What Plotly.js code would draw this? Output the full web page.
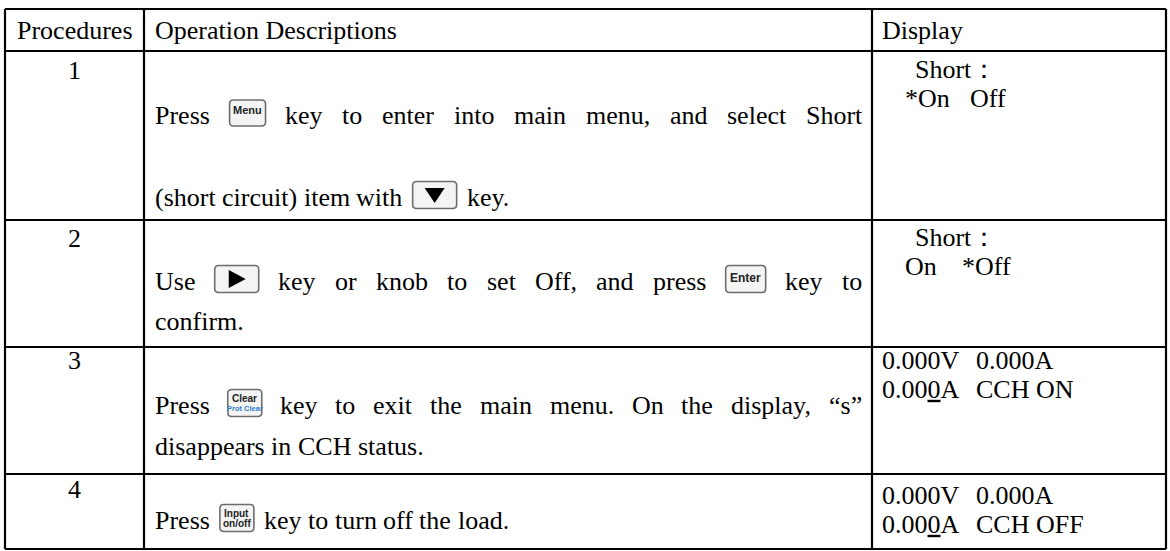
<!DOCTYPE html>
<html><head><meta charset="utf-8">
<script src="https://cdn.plot.ly/plotly-3.0.1.min.js"></script>
<style>html,body{margin:0;padding:0;background:#fff}#chart{width:1170px;height:551px}</style>
</head><body><div id="chart"></div>
<script>
// ---------- table content ----------
const headers = ["Procedures", "Operation Descriptions", "Display"];
const steps = ["1", "2", "3", "4"];
const descriptions = [
  ["Press [Menu] key to enter into main menu, and select Short", "(short circuit) item with [Down] key."],
  ["Use [Right] key or knob to set Off, and press [Enter] key to", "confirm."],
  ["Press [Clear] key to exit the main menu. On the display, \u201cs\u201d", "disappears in CCH status."],
  ["Press [Input] key to turn off the load."]
];
const displays = [
  [["Short\uff1a"], ["*On", "Off"]],
  [["Short\uff1a"], ["On", "*Off"]],
  [["0.000V", "0.000A"], ["0.000A", "CCH ON"]],
  [["0.000V", "0.000A"], ["0.000A", "CCH OFF"]]
];
const cursorDigit = [null, null, [1, 0, 4], [1, 0, 4]]; // [line, segment, char index] underlined

// ---------- layout constants ----------
const FS = 26;
const FONT = '"Liberation Serif", "Times New Roman", serif';
const colX = [5, 144, 872, 1166];
const rowY = [9, 51, 220, 347, 474, 549];
const headerY = 30;
const stepY = [70, 238, 360, 489];
const descY = [[115, 197], [281, 321], [405, 446], [520]];
const dispY = [[69, 98], [237, 266], [360, 389], [495, 524]];
const dispX = [[[915], [905, 970]], [[915], [905, 962]], [[882, 976], [882, 976]], [[882, 976], [882, 976]]];
const descL = 155, descR = 862;

const KEYS = {
  Menu:  {w: 36, h: 26, labels: [["Menu", 11, "#222", -3]]},
  Down:  {w: 44, h: 27, tri: "down"},
  Right: {w: 44, h: 27, tri: "right"},
  Enter: {w: 40, h: 27, labels: [["Enter", 12, "#222", -1]]},
  Clear: {w: 34, h: 27, labels: [["Clear", 10, "#222", -5], ["Prot Clear", 7.5, "#2f7fd0", 5]]},
  Input: {w: 34, h: 27, labels: [["Input", 10, "#222", -5], ["on/off", 10, "#222", 5]]}
};

const ctx = document.createElement("canvas").getContext("2d");
ctx.font = FS + 'px "Liberation Serif"';
const tw = s => ctx.measureText(s).width;

const shapes = [];
const annotations = [];
const TXT = (x, y, text, opts) => annotations.push(Object.assign({
  x: x, y: y, xref: "x", yref: "y", text: text, showarrow: false,
  xanchor: "left", yanchor: "middle", borderpad: 0, borderwidth: 0,
  font: {family: FONT, size: FS, color: "#000"}
}, opts || {}));

// grid lines
const LINE = {color: "#000", width: 2.2};
rowY.forEach(y => shapes.push({type: "line", xref: "x", yref: "y", x0: colX[0], x1: colX[3], y0: y, y1: y, line: LINE}));
colX.forEach(x => shapes.push({type: "line", xref: "x", yref: "y", x0: x, x1: x, y0: rowY[0], y1: rowY[rowY.length - 1], line: LINE}));

// header
TXT((colX[0] + colX[1]) / 2, headerY, headers[0], {xanchor: "center"});
TXT(descL, headerY, headers[1]);
TXT(882, headerY, headers[2]);

function rr(x, y, w, h, r) {
  return `M${x + r},${y} L${x + w - r},${y} Q${x + w},${y} ${x + w},${y + r} L${x + w},${y + h - r} Q${x + w},${y + h} ${x + w - r},${y + h} L${x + r},${y + h} Q${x},${y + h} ${x},${y + h - r} L${x},${y + r} Q${x},${y} ${x + r},${y} Z`;
}
function drawKey(name, x, cy) {
  const k = KEYS[name];
  const y = cy - k.h / 2 - 2;
  shapes.push({type: "path", xref: "x", yref: "y", path: rr(x, y, k.w, k.h, 4),
    fillcolor: "#f4f4f4", line: {color: "#6d6d6d", width: 1.6}});
  const cx = x + k.w / 2, my = y + k.h / 2;
  if (k.tri === "down") {
    shapes.push({type: "path", xref: "x", yref: "y", path: `M${cx - 10},${my - 7} L${cx + 10},${my - 7} L${cx},${my + 8} Z`, fillcolor: "#000", line: {width: 0}});
  } else if (k.tri === "right") {
    shapes.push({type: "path", xref: "x", yref: "y", path: `M${cx - 8},${my - 9} L${cx + 9},${my} L${cx - 8},${my + 9} Z`, fillcolor: "#000", line: {width: 0}});
  }
  (k.labels || []).forEach(l => TXT(cx, my + l[3], "<b>" + l[0] + "</b>",
    {xanchor: "center", font: {family: '"Liberation Sans", Arial, sans-serif', size: l[1], color: l[2]}}));
}

// body
steps.forEach((s, i) => {
  TXT((colX[0] + colX[1]) / 2, stepY[i], s, {xanchor: "center"});
  const lines = descriptions[i];
  lines.forEach((line, j) => {
    const toks = line.split(" ").map(t => {
      const m = t.match(/^\[(\w+)\]$/);
      return m ? {key: m[1], w: KEYS[m[1]].w} : {word: t, w: tw(t)};
    });
    const justify = j < lines.length - 1;
    const total = toks.reduce((a, t) => a + t.w, 0);
    const jgap = (descR - descL - total) / (toks.length - 1);
    let x = descL;
    toks.forEach((t, n) => {
      if (n > 0) {
        const prev = toks[n - 1];
        x += justify ? jgap : ((t.key || prev.key) ? 10 : tw(" "));
      }
      if (t.key) drawKey(t.key, x, descY[i][j]);
      else TXT(x, descY[i][j], t.word);
      x += t.w;
    });
  });
  displays[i].forEach((segs, j) => {
    segs.forEach((seg, n) => TXT(dispX[i][j][n], dispY[i][j], seg));
  });
  const c = cursorDigit[i];
  if (c) {
    const seg = displays[i][c[0]][c[1]];
    const a = dispX[i][c[0]][c[1]] + tw(seg.slice(0, c[2]));
    const b = a + tw(seg.charAt(c[2]));
    const uy = dispY[i][c[0]] + 12;
    shapes.push({type: "line", xref: "x", yref: "y", x0: a, x1: b, y0: uy, y1: uy, line: {color: "#000", width: 2.4}});
  }
});

const data = [{type: "scatter", x: [], y: [], hoverinfo: "skip", showlegend: false}];
const layout = {
  width: 1170, height: 551,
  margin: {l: 0, r: 0, t: 0, b: 0},
  paper_bgcolor: "#fff", plot_bgcolor: "#fff",
  xaxis: {range: [0, 1170], visible: false, fixedrange: true},
  yaxis: {range: [551, 0], visible: false, fixedrange: true},
  shapes: shapes, annotations: annotations, showlegend: false
};
Plotly.newPlot("chart", data, layout, {staticPlot: true, displayModeBar: false});
</script>
</body></html>
